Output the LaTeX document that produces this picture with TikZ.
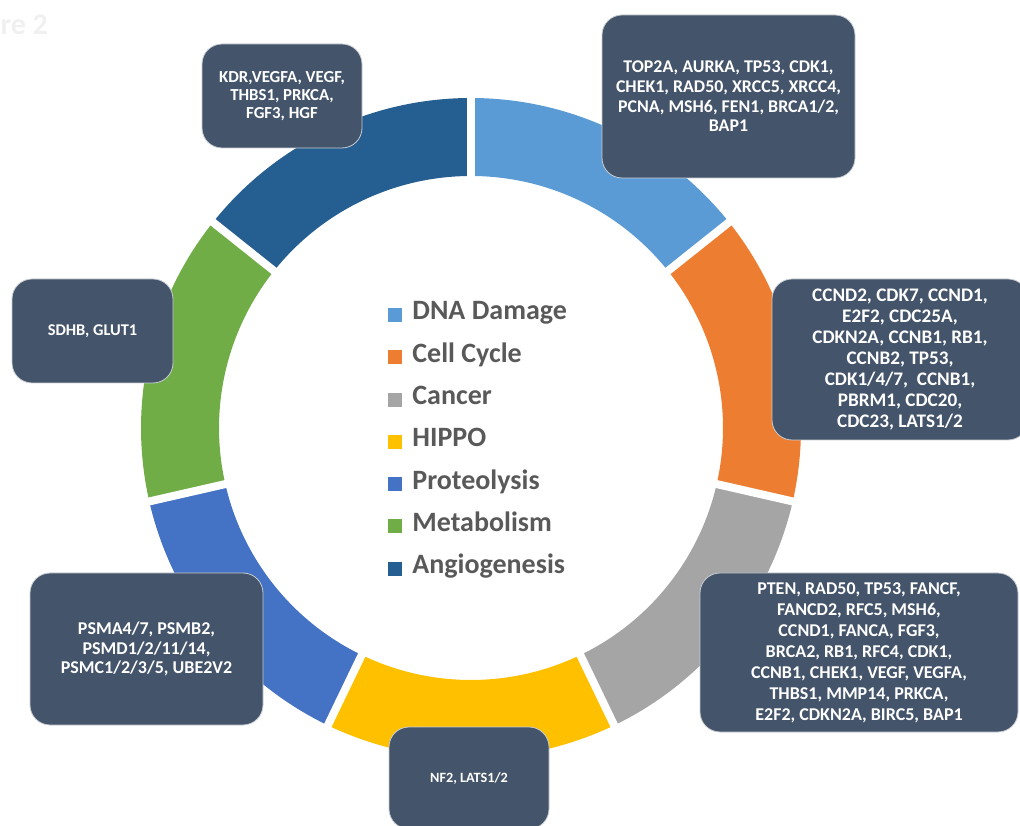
\documentclass[tikz,border=0pt]{standalone}
\usepackage{fontspec}
\setmainfont{Carlito}
\usepackage{tikz}
\usetikzlibrary{positioning}

\begin{document}
\begin{tikzpicture}[x=1pt,y=1pt,node distance=42.3pt]
    \definecolor{dnablue}{RGB}{91,155,213}
    \definecolor{cycleorange}{RGB}{237,125,49}
    \definecolor{cancergray}{RGB}{165,165,165}
    \definecolor{hippoyellow}{RGB}{255,192,0}
    \definecolor{protblue}{RGB}{68,114,196}
    \definecolor{metabgreen}{RGB}{112,173,71}
    \definecolor{angioblue}{RGB}{37,94,145}
    \definecolor{boxslate}{RGB}{68,84,106}
    \definecolor{legendgray}{RGB}{89,89,89}

    \tikzstyle{genebox}=[rectangle,rounded corners=20pt,fill=boxslate,draw=white!70!boxslate,line width=0.8pt,text=white,align=center,inner sep=0pt]  % 基因框
    \tikzstyle{legsq}=[rectangle,minimum size=14pt,inner sep=0pt]  % 图例色块
    \tikzstyle{legtext}=[text=legendgray,font=\fontsize{28pt}{32pt}\selectfont\bfseries,inner sep=0pt,text height=17pt,text depth=7pt]
    \tikzstyle{gap}=[draw=white,line width=8pt]  % 扇区之间的白缝

    \useasboundingbox (0,0) rectangle (1020,825);

    \node[text=black!6,font=\fontsize{30pt}{32pt}\selectfont\bfseries,anchor=west](fig) at (-3,800){re 2};

    % 圆环,七等分
    \begin{scope}[shift={(471,397)}]
      \fill[dnablue] (90:330pt) arc[start angle=90,end angle=38.57,radius=330pt] -- (38.57:252pt) arc[start angle=38.57,end angle=90,radius=252pt] -- cycle;
      \fill[cycleorange] (38.57:330pt) arc[start angle=38.57,end angle=-12.86,radius=330pt] -- (-12.86:252pt) arc[start angle=-12.86,end angle=38.57,radius=252pt] -- cycle;
      \fill[cancergray] (-12.86:330pt) arc[start angle=-12.86,end angle=-64.29,radius=330pt] -- (-64.29:252pt) arc[start angle=-64.29,end angle=-12.86,radius=252pt] -- cycle;
      \fill[hippoyellow] (-64.29:330pt) arc[start angle=-64.29,end angle=-115.71,radius=330pt] -- (-115.71:252pt) arc[start angle=-115.71,end angle=-64.29,radius=252pt] -- cycle;
      \fill[protblue] (-115.71:330pt) arc[start angle=-115.71,end angle=-167.14,radius=330pt] -- (-167.14:252pt) arc[start angle=-167.14,end angle=-115.71,radius=252pt] -- cycle;
      \fill[metabgreen] (-167.14:330pt) arc[start angle=-167.14,end angle=-218.57,radius=330pt] -- (-218.57:252pt) arc[start angle=-218.57,end angle=-167.14,radius=252pt] -- cycle;
      \fill[angioblue] (-218.57:330pt) arc[start angle=-218.57,end angle=-270,radius=330pt] -- (-270:252pt) arc[start angle=-270,end angle=-218.57,radius=252pt] -- cycle;
      \draw[gap] (90:240pt) -- (90:340pt);
      \draw[gap] (38.57:240pt) -- (38.57:340pt);
      \draw[gap] (-12.86:240pt) -- (-12.86:340pt);
      \draw[gap] (-64.29:240pt) -- (-64.29:340pt);
      \draw[gap] (-115.71:240pt) -- (-115.71:340pt);
      \draw[gap] (-167.14:240pt) -- (-167.14:340pt);
      \draw[gap] (-218.57:240pt) -- (-218.57:340pt);
    \end{scope}

    % 图例
    \node[legsq,fill=dnablue](sq1) at (395,510){};
    \node[legsq,fill=cycleorange,below of=sq1](sq2){};
    \node[legsq,fill=cancergray,below of=sq2](sq3){};
    \node[legsq,fill=hippoyellow,below of=sq3](sq4){};
    \node[legsq,fill=protblue,below of=sq4](sq5){};
    \node[legsq,fill=metabgreen,below of=sq5](sq6){};
    \node[legsq,fill=angioblue,below of=sq6](sq7){};
    \node[legtext,right=10pt of sq1](dna){DNA Damage};
    \node[legtext,right=10pt of sq2](cycle){Cell Cycle};
    \node[legtext,right=10pt of sq3](cancer){Cancer};
    \node[legtext,right=10pt of sq4](hippo){HIPPO};
    \node[legtext,right=10pt of sq5](prot){Proteolysis};
    \node[legtext,right=10pt of sq6](metab){Metabolism};
    \node[legtext,right=10pt of sq7](angio){Angiogenesis};

    % 基因框
    \node[genebox,minimum width=253pt,minimum height=163pt,font=\fontsize{17.9pt}{19.7pt}\selectfont\bfseries](dnagenes) at (728.5,728.5){TOP2A, AURKA, TP53, CDK1,\\CHEK1, RAD50, XRCC5, XRCC4,\\PCNA, MSH6, FEN1, BRCA1/2,\\BAP1};
    \node[genebox,minimum width=256pt,minimum height=161pt,font=\fontsize{19.2pt}{21pt}\selectfont\bfseries](cyclegenes) at (900,465.5){CCND2, CDK7, CCND1,\\E2F2, CDC25A,\\CDKN2A, CCNB1, RB1,\\CCNB2, TP53,\\CDK1/4/7,\ \ CCNB1,\\PBRM1, CDC20,\\CDC23, LATS1/2};
    \node[genebox,minimum width=318pt,minimum height=159pt,font=\fontsize{18pt}{21pt}\selectfont\bfseries](cancergenes) at (859,172.5){PTEN, RAD50, TP53, FANCF,\\FANCD2, RFC5, MSH6,\\CCND1, FANCA, FGF3,\\BRCA2, RB1, RFC4, CDK1,\\CCNB1, CHEK1, VEGF, VEGFA,\\THBS1, MMP14, PRKCA,\\E2F2, CDKN2A, BIRC5, BAP1};
    \node[genebox,minimum width=160pt,minimum height=102pt,font=\fontsize{14.2pt}{18pt}\selectfont\bfseries](hippogenes) at (469,47){NF2, LATS1/2};
    \node[genebox,minimum width=233pt,minimum height=152pt,font=\fontsize{18pt}{19.5pt}\selectfont\bfseries](protgenes) at (146.5,176){PSMA4/7, PSMB2,\\PSMD1/2/11/14,\\PSMC1/2/3/5, UBE2V2};
    \node[genebox,minimum width=161pt,minimum height=104pt,font=\fontsize{16.4pt}{18pt}\selectfont\bfseries](metabgenes) at (92.5,494){SDHB, GLUT1};
    \node[genebox,minimum width=160pt,minimum height=104pt,font=\fontsize{16.8pt}{18pt}\selectfont\bfseries](angiogenes) at (282,729){KDR,VEGFA, VEGF,\\THBS1, PRKCA,\\FGF3, HGF};
\end{tikzpicture}
\end{document}
